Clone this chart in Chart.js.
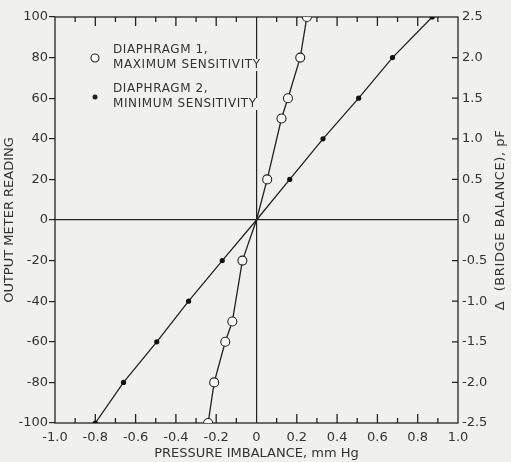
<!DOCTYPE html>
<html lang="en">
<head>
    <meta charset="UTF-8">
    <title>Output meter reading vs pressure imbalance</title>
    <script src="https://cdn.jsdelivr.net/npm/chart.js"></script>
    <style>
        html, body { margin: 0; padding: 0; background: #f0f0ee; }
        #wrap { width: 511px; height: 462px; }
    </style>
</head>
<body>
    <div id="wrap"><canvas id="chart" width="511" height="462"></canvas></div>

    <script>
        // Diaphragm 1, maximum sensitivity (open circles)
        const pressure1 = [-0.24, -0.21, -0.155, -0.12, -0.07, 0, 0.053, 0.124, 0.156, 0.217, 0.25];
        const reading1  = [-100, -80, -60, -50, -20, 0, 20, 50, 60, 80, 100];

        // Diaphragm 2, minimum sensitivity (filled dots)
        const pressure2 = [-0.80, -0.66, -0.495, -0.337, -0.17, 0, 0.165, 0.33, 0.507, 0.675, 0.872];
        const reading2  = [-100, -80, -60, -40, -20, 0, 20, 40, 60, 80, 100];

        const legendLines = [
            ['DIAPHRAGM 1,', 'MAXIMUM SENSITIVITY'],
            ['DIAPHRAGM 2,', 'MINIMUM SENSITIVITY']
        ];

        const ink = '#222';
        const textInk = '#333';
        const paper = '#f0f0ee';
        const font = '"DejaVu Sans", sans-serif';

        const toPoints = (xs, ys) => xs.map((x, i) => ({ x: x, y: ys[i] }));
        // no marker drawn at the origin, the lines just pass through it
        const radius = r => ctx => (ctx.raw && ctx.raw.y === 0 ? 0 : r);

        // frame, zero lines are grid; inward ticks on top, bottom and right
        const frameTicks = {
            id: 'frameTicks',
            beforeDraw(chart) {
                const c = chart.ctx;
                c.save();
                c.fillStyle = paper;
                c.fillRect(0, 0, chart.width, chart.height);
                c.restore();
            },
            beforeDatasetsDraw(chart) {
                const c = chart.ctx, a = chart.chartArea;
                const x = chart.scales.x, y2 = chart.scales.y2;
                c.save();
                c.strokeStyle = ink;
                c.lineWidth = 1.3;
                c.strokeRect(a.left, a.top, a.right - a.left, a.bottom - a.top);
                c.beginPath();
                for (let i = -9; i <= 9; i++) {
                    if (i === 0) continue;
                    const px = x.getPixelForValue(i / 10);
                    const len = i % 2 === 0 ? 9 : 5;
                    c.moveTo(px, a.top); c.lineTo(px, a.top + len);
                    c.moveTo(px, a.bottom); c.lineTo(px, a.bottom - len);
                }
                for (let i = -4; i <= 4; i++) {
                    if (i === 0) continue;
                    const py = y2.getPixelForValue(i / 2);
                    c.moveTo(a.right, py); c.lineTo(a.right - 6, py);
                }
                c.stroke();

                // legend, over the zero line which it interrupts
                c.font = '12px ' + font;
                c.letterSpacing = '0.6px';
                c.textBaseline = 'middle';
                const lx = a.left + 40, tx = a.left + 58;
                const rows = [a.top + 33, a.top + 48, a.top + 72, a.top + 87];
                const texts = [legendLines[0][0], legendLines[0][1], legendLines[1][0], legendLines[1][1]];
                texts.forEach((t, i) => {
                    const w = c.measureText(t).width;
                    c.fillStyle = paper;
                    c.fillRect(tx - 2, rows[i] - 6, w + 4, 12);
                    c.fillStyle = textInk;
                    c.fillText(t, tx, rows[i]);
                });
                c.strokeStyle = ink;
                c.lineWidth = 1.1;
                c.beginPath();
                c.arc(lx, a.top + 41, 4, 0, Math.PI * 2);
                c.fillStyle = '#fafafa';
                c.fill();
                c.stroke();
                c.fillStyle = ink;
                c.beginPath();
                c.arc(lx, a.top + 80, 2.5, 0, Math.PI * 2);
                c.fill();
                c.restore();
            },
            afterDraw(chart) {
                const c = chart.ctx, a = chart.chartArea;
                c.save();
                c.fillStyle = textInk;
                c.textBaseline = 'middle';
                c.letterSpacing = '0.6px';
                // right axis title, reading bottom to top
                c.font = '13px ' + font;
                c.textAlign = 'center';
                c.translate(chart.width - 10, (a.top + a.bottom) / 2);
                c.rotate(-Math.PI / 2);
                c.fillText('\u0394  (BRIDGE BALANCE), pF', 0, 0);
                c.restore();
            }
        };

        const tickFont = { family: font, size: 13 };
        const titleFont = { family: font, size: 13 };

        new Chart(document.getElementById('chart'), {
            type: 'scatter',
            data: {
                datasets: [
                    {
                        label: 'Diaphragm 1, maximum sensitivity',
                        data: toPoints(pressure1, reading1),
                        showLine: true,
                        borderColor: ink,
                        borderWidth: 1.3,
                        pointRadius: radius(4.5),
                        pointBackgroundColor: '#fafafa',
                        pointBorderColor: ink,
                        pointBorderWidth: 1.1
                    },
                    {
                        label: 'Diaphragm 2, minimum sensitivity',
                        data: toPoints(pressure2, reading2),
                        showLine: true,
                        borderColor: ink,
                        borderWidth: 1.3,
                        pointRadius: radius(2.6),
                        pointBackgroundColor: '#111',
                        pointBorderColor: '#111',
                        pointBorderWidth: 0
                    }
                ]
            },
            options: {
                responsive: false,
                animation: false,
                layout: { padding: { top: 17, left: 0, right: 0, bottom: 0 } },
                plugins: { legend: { display: false }, tooltip: { enabled: false } },
                scales: {
                    x: {
                        type: 'linear',
                        min: -1, max: 1,
                        afterFit: s => { s.height = 39; },
                        ticks: {
                            stepSize: 0.1,
                            autoSkip: false,
                            maxRotation: 0,
                            padding: 7,
                            color: textInk,
                            font: tickFont,
                            callback: v => {
                                const k = Math.round(v * 10);
                                if (k % 2 !== 0) return '';
                                return k === 0 ? '0' : (k / 10).toFixed(1);
                            }
                        },
                        grid: {
                            drawTicks: false,
                            lineWidth: 1.2,
                            color: ctx => (ctx.tick && Math.abs(ctx.tick.value) < 1e-9 ? ink : 'rgba(0,0,0,0)')
                        },
                        border: { display: false },
                        title: {
                            display: true,
                            text: 'PRESSURE IMBALANCE, mm Hg',
                            color: textInk,
                            font: titleFont,
                            padding: { top: 0, bottom: 1 }
                        }
                    },
                    y: {
                        position: 'left',
                        min: -100, max: 100,
                        afterFit: s => { s.width = 55; },
                        ticks: {
                            stepSize: 20,
                            padding: 1,
                            color: textInk,
                            font: tickFont,
                            callback: v => String(v)
                        },
                        grid: {
                            drawTicks: true,
                            tickLength: 6,
                            tickColor: ink,
                            tickWidth: 1.2,
                            lineWidth: 1.2,
                            color: ctx => (ctx.tick && ctx.tick.value === 0 ? ink : 'rgba(0,0,0,0)')
                        },
                        border: { display: false },
                        title: {
                            display: true,
                            text: 'OUTPUT METER READING',
                            color: textInk,
                            font: titleFont,
                            padding: { top: 2, bottom: 0 }
                        }
                    },
                    y2: {
                        position: 'right',
                        min: -2.5, max: 2.5,
                        afterFit: s => { s.width = 53; },
                        ticks: {
                            stepSize: 0.5,
                            padding: 4,
                            color: textInk,
                            font: tickFont,
                            callback: v => (v === 0 ? '0' : v.toFixed(1))
                        },
                        grid: { drawOnChartArea: false, drawTicks: false },
                        border: { display: false }
                    }
                }
            },
            plugins: [frameTicks]
        });
    </script>
</body>
</html>
